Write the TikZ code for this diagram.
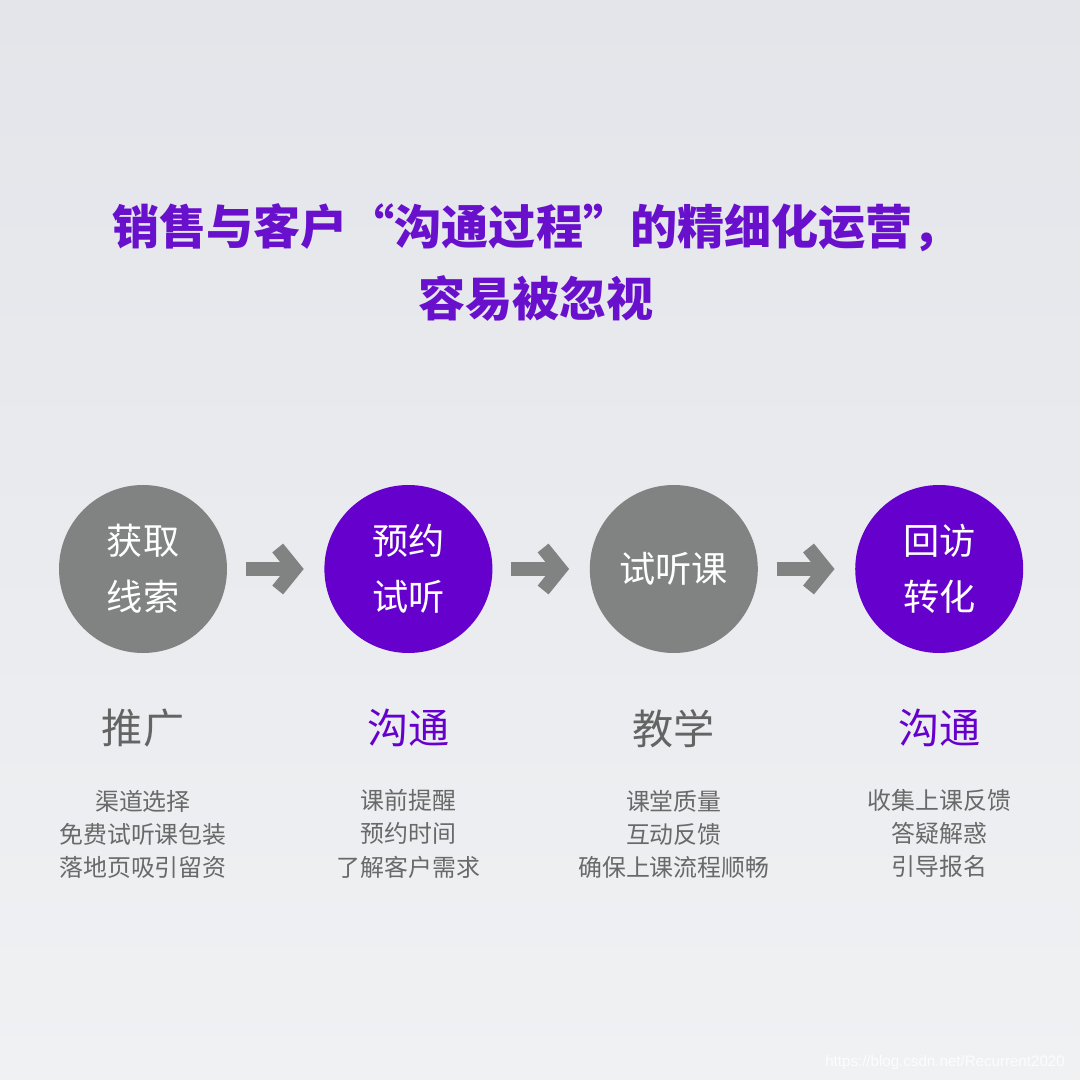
\documentclass[tikz,border=0pt]{standalone}
\usepackage{fontspec}
\setmainfont{Noto Sans CJK SC}
\newfontfamily\urlfont{Liberation Sans}
\usepackage{tikz}
\usetikzlibrary{positioning, arrows.meta}
\definecolor{stagegrey}{RGB}{128,131,129}
\definecolor{stagepurple}{RGB}{102,0,204}
\definecolor{titlepurple}{RGB}{104,16,204}
\definecolor{labelgrey}{RGB}{100,100,100}
\definecolor{notegrey}{RGB}{105,105,105}
\definecolor{bgtop}{RGB}{227,229,234}
\definecolor{bgbottom}{RGB}{240,241,243}

\begin{document}
\begin{tikzpicture}[
    node distance=0.96cm,
    stage/.style={circle, minimum size=1.68cm, inner sep=0pt, text=white, align=center, font=\fontsize{10.3pt}{15.9pt}\selectfont},
    phase/.style={inner sep=0pt, font=\fontsize{11.7pt}{14pt}\selectfont},
    note/.style={inner sep=0pt, align=center, text=notegrey, font=\fontsize{6.8pt}{9.4pt}\selectfont},
    flow/.style={-{Straight Barb[length=0.17cm, width=0.42cm]}, line width=0.14cm, stagegrey, shorten <=0.18cm, shorten >=0.2cm}
]

% background
\shade[top color=bgtop, bottom color=bgbottom] (0,0) rectangle (10.8,-10.8);
\useasboundingbox (0,0) rectangle (10.8,-10.8);

\node[text=titlepurple, align=center, font=\fontsize{13.4pt}{20.5pt}\selectfont\bfseries] (title) at (5.36,-2.62) {销售与客户“沟通过程”的精细化运营，\\容易被忽视};

\node[stage, fill=stagegrey] (lead) at (1.43,-5.69) {获取\\线索};
\node[stage, fill=stagepurple, right=of lead] (book) {预约\\试听};
\node[stage, fill=stagegrey, right=of book] (trial) {试听课};
\node[stage, fill=stagepurple, right=of trial] (visit) {回访\\转化};

\draw[flow] (lead) -- (book);
\draw[flow] (book) -- (trial);
\draw[flow] (trial) -- (visit);

\node[phase, text=labelgrey, below=0.55cm of lead] (promo) {推广};
\node[phase, text=stagepurple, below=0.55cm of book] (talk) {沟通};
\node[phase, text=labelgrey, below=0.55cm of trial] (teach) {教学};
\node[phase, text=stagepurple, below=0.55cm of visit] (talkback) {沟通};

\node[note, below=0.41cm of promo] (promonote) {渠道选择\\免费试听课包装\\落地页吸引留资};
\node[note, below=0.41cm of talk] (talknote) {课前提醒\\预约时间\\了解客户需求};
\node[note, below=0.41cm of teach] (teachnote) {课堂质量\\互动反馈\\确保上课流程顺畅};
\node[note, below=0.41cm of talkback] (talkbacknote) {收集上课反馈\\答疑解惑\\引导报名};

\node[text=white, opacity=0.85, inner sep=0pt, font=\urlfont\fontsize{4.3pt}{5pt}\selectfont] (mark) at (9.45,-10.63) {https://blog.csdn.net/Recurrent2020};

\end{tikzpicture}
\end{document}
